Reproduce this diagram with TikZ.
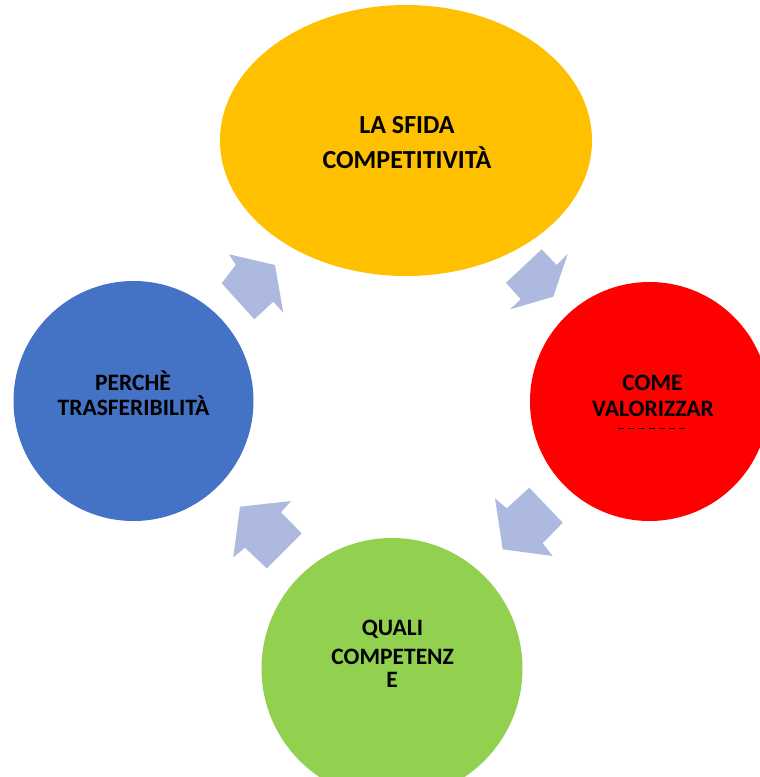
\documentclass[tikz,border=0pt]{standalone}
\usepackage{fontspec}
\setmainfont{Carlito}
\usetikzlibrary{shapes.geometric}
\definecolor{cyellow}{HTML}{FFC000}
\definecolor{cred}{HTML}{FF0000}
\definecolor{cblue}{HTML}{4472C4}
\definecolor{cgreen}{HTML}{92D050}
\definecolor{carrow}{RGB}{174,185,224}
\begin{document}
\begin{tikzpicture}[x=1pt,y=-1pt,
  blob/.style={draw=none, inner sep=0pt},
  lab/.style={font=\bfseries\fontsize{23.5}{28}\selectfont, anchor=base, text=black, inner sep=0pt},
  biglab/.style={lab, font=\bfseries\fontsize{26}{31}\selectfont},
  arr/.style={fill=carrow, draw=none}]
\useasboundingbox (0,0) rectangle (760,777);
\clip (0,0) rectangle (760,777);
% shapes
\node[blob, ellipse, fill=cyellow, minimum width=372pt, minimum height=271pt] (sfida) at (406,140.5) {};
\node[blob, circle, fill=cred, minimum size=239pt] (come) at (649.5,401.5) {};
\node[blob, circle, fill=cblue, minimum size=240pt] (perche) at (133.5,401) {};
\node[blob, circle, fill=cgreen, minimum size=261pt] (quali) at (392,668.5) {};
% arrows
\fill[arr] (541.7,249.3) -- (556.7,265) -- (567.7,254) -- (553.3,296.7) -- (510,309.3) -- (520.7,299.3) -- (506,282.7) -- cycle;
\fill[arr] (229,254.3) -- (275,265) -- (283.3,312.7) -- (273.3,301.7) -- (254.3,319.3) -- (221.7,283.3) -- (235.7,265) -- cycle;
\fill[arr] (291,501) -- (240,506.7) -- (233.3,557.3) -- (245,547.7) -- (266.7,568.3) -- (301.7,533.3) -- (281,512.3) -- cycle;
\fill[arr] (529.3,487.7) -- (562.7,522.7) -- (542.7,543.3) -- (552.7,556) -- (502.7,549.3) -- (495,498.3) -- (506.7,508.3) -- cycle;
% texts
\node[biglab] (t1) at (407,133) {LA SFIDA};
\node[biglab] (t2) at (407,168) {COMPETITIVITÀ};
\node[lab] (t3) at (133,390) {PERCHÈ};
\node[lab] (t4) at (133.5,415) {TRASFERIBILITÀ};
\node[lab] (t5) at (652.5,390) {COME};
\node[lab] (t6) at (653,416.7) {VALORIZZAR};
\draw[line width=1pt, dash pattern=on 6pt off 4.2pt] (618,428) -- (686,428);
\node[lab] (t7) at (392.5,635) {QUALI};
\node[lab] (t8) at (392.7,664) {COMPETENZ};
\node[lab] (t9) at (392,687) {E};
\end{tikzpicture}
\end{document}
